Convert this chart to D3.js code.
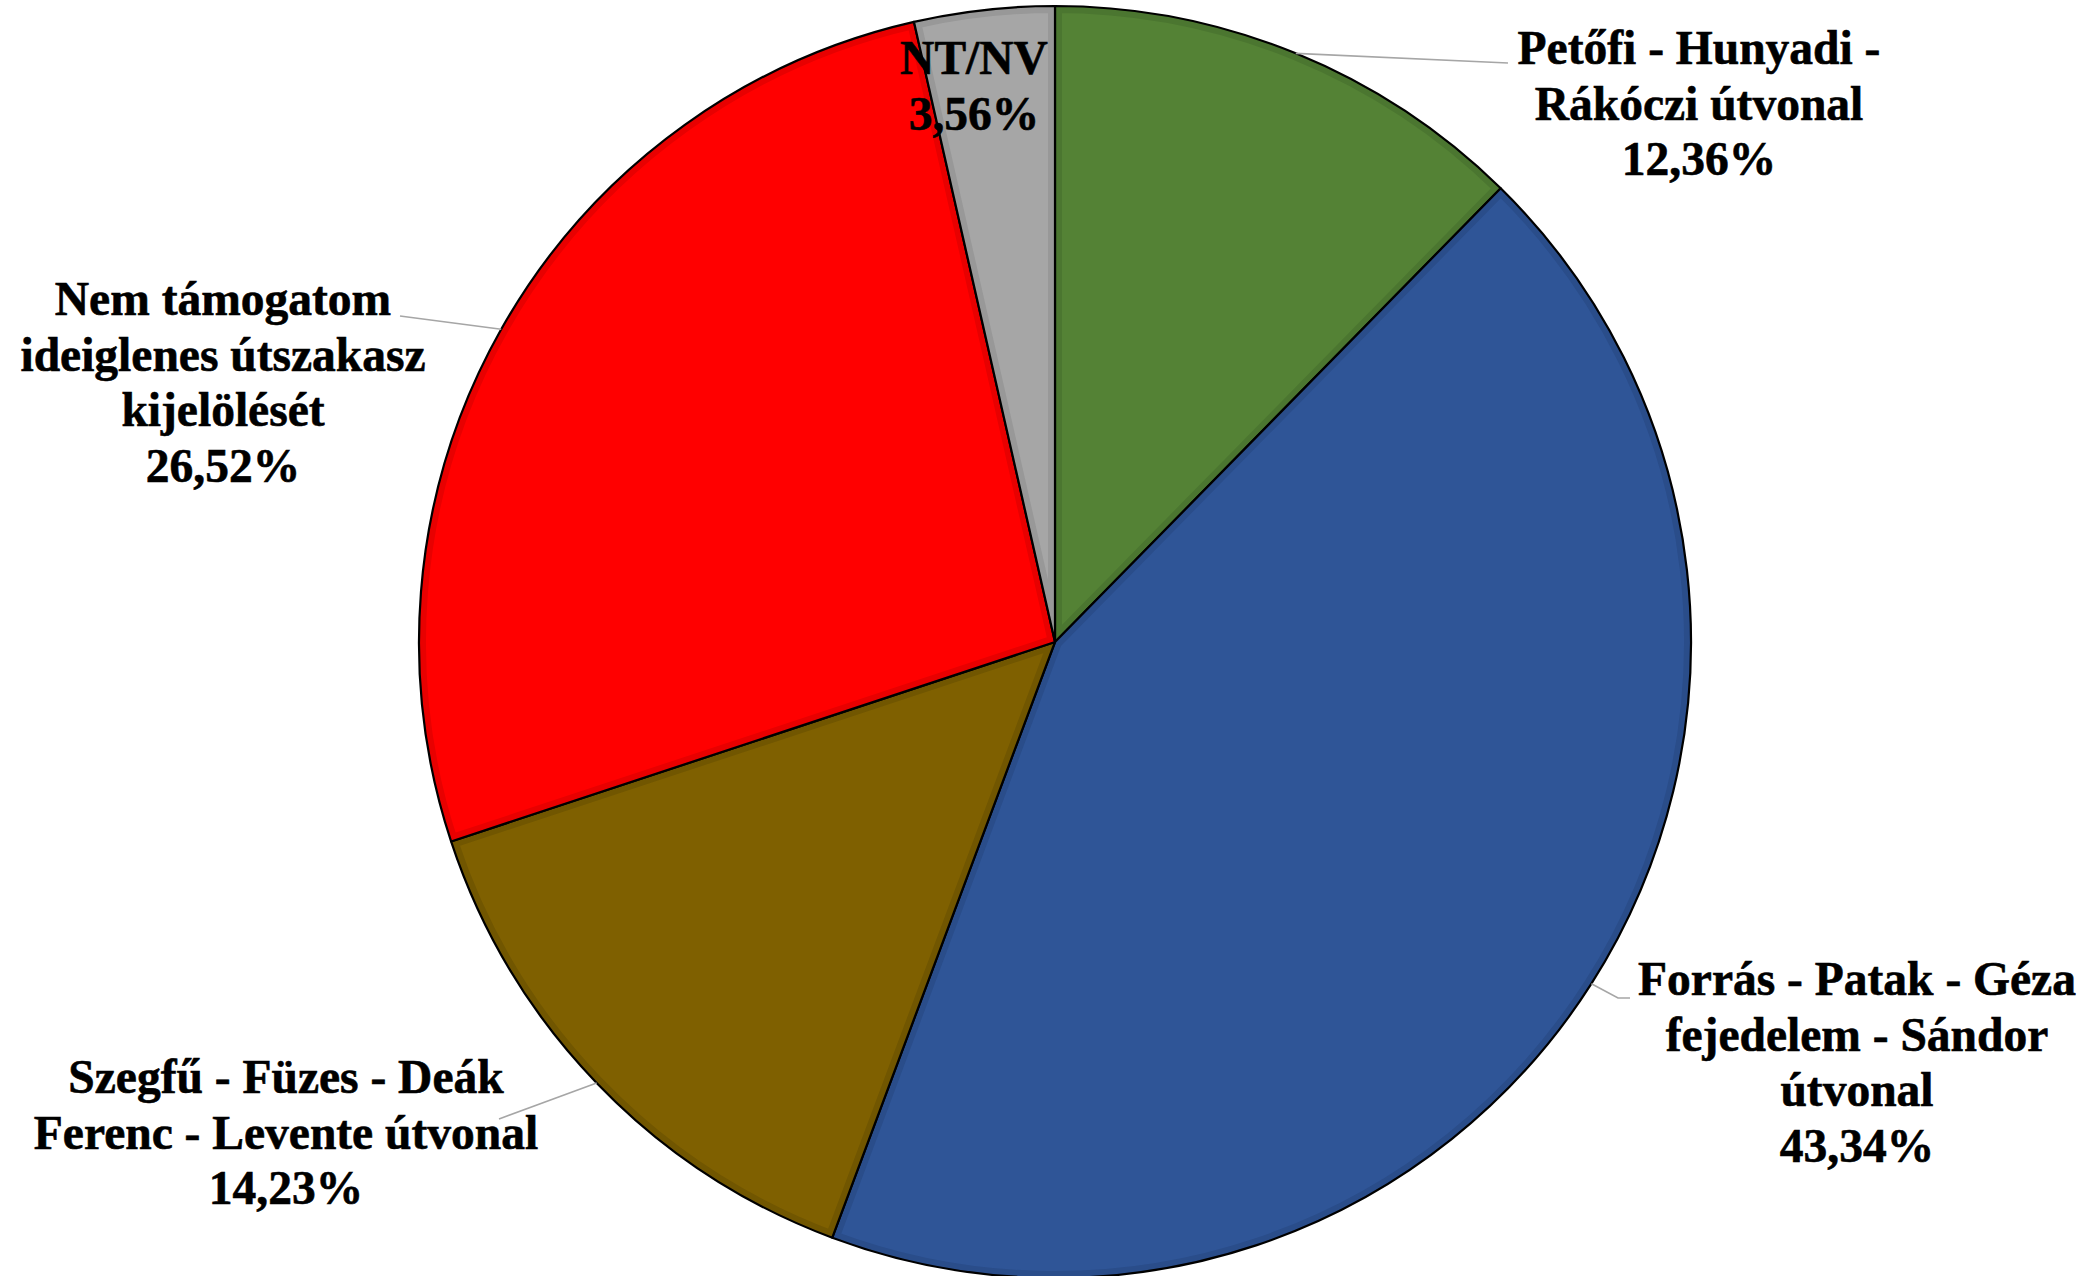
<!DOCTYPE html>
<html>
<head>
<meta charset="utf-8">
<script src="https://cdn.jsdelivr.net/npm/d3@7/dist/d3.min.js"></script>
<style>
  html, body { margin: 0; padding: 0; background: #ffffff; }
  svg { display: block; }
</style>
</head>
<body>
<svg id="chart" width="2097" height="1276"></svg>
<script>
// ---- data ----
const categories = [
  "Petőfi - Hunyadi - Rákóczi útvonal",
  "Forrás - Patak - Géza fejedelem - Sándor útvonal",
  "Szegfű - Füzes - Deák Ferenc - Levente útvonal",
  "Nem támogatom ideiglenes útszakasz kijelölését",
  "NT/NV"
];
const values = [12.36, 43.34, 14.23, 26.52, 3.56];
const labelLines = [
  ["Petőfi - Hunyadi -", "Rákóczi útvonal"],
  ["Forrás - Patak - Géza", "fejedelem - Sándor", "útvonal"],
  ["Szegfű - Füzes - Deák", "Ferenc - Levente útvonal"],
  ["Nem támogatom", "ideiglenes útszakasz", "kijelölését"],
  ["NT/NV"]
];

// ---- styles / layout ----
const fills  = ["#548235", "#2F5597", "#7F6000", "#FF0000", "#A6A6A6"];
const bands  = ["#4B7630", "#2A4D8A", "#715600", "#E80000", "#989898"];
const cx = 1055, cy = 642, R = 636;
const fontSize = 47.5, lineGap = 55.5;
const labelLayout = [
  { x: 1699, y: 64,   leader: [[1508, 63]] },
  { x: 1857, y: 995,  leader: [[1618, 998], [1630, 998]] },
  { x: 286,  y: 1093, leader: [[499, 1119]] },
  { x: 223,  y: 315,  leader: [[400, 316]] },
  { x: 974,  y: 74,   leader: null }
];

const locale = d3.formatLocale({ decimal: ",", thousands: " ", grouping: [3], currency: ["", " Ft"] });
const pct = v => locale.format(".2f")(v) + "%";

const svg = d3.select("#chart");
const g = svg.append("g").attr("transform", `translate(${cx},${cy})`);

const pie = d3.pie().sort(null).value(d => d);
const arcs = pie(values);
const arc = d3.arc().innerRadius(0).outerRadius(R);
const edgeArc = d3.arc().innerRadius(R).outerRadius(R);

const defs = svg.append("defs");
arcs.forEach((a, i) => {
  defs.append("clipPath").attr("id", "clip" + i)
    .append("path").attr("d", arc(a));
});

const slices = g.selectAll("g.slice").data(arcs).join("g").attr("class", "slice");
slices.append("path")
  .attr("d", arc)
  .attr("fill", (d, i) => fills[i]);
slices.append("path")
  .attr("d", arc)
  .attr("fill", "none")
  .attr("stroke", (d, i) => bands[i])
  .attr("stroke-width", 14)
  .attr("clip-path", (d, i) => `url(#clip${i})`);
slices.append("path")
  .attr("d", arc)
  .attr("fill", "none")
  .attr("stroke", "#000")
  .attr("stroke-width", 2.2)
  .attr("stroke-linejoin", "round");

// leader lines
arcs.forEach((a, i) => {
  const L = labelLayout[i];
  if (!L.leader) return;
  const c = edgeArc.centroid(a);
  const pts = [[cx + c[0], cy + c[1]]].concat(L.leader);
  svg.append("path")
    .attr("d", d3.line()(pts))
    .attr("fill", "none")
    .attr("stroke", "#A6A6A6")
    .attr("stroke-width", 1.6);
});

// labels
arcs.forEach((a, i) => {
  const L = labelLayout[i];
  const lines = labelLines[i].concat([pct(values[i])]);
  lines.forEach((t, k) => {
    svg.append("text")
      .attr("x", L.x)
      .attr("y", L.y + k * lineGap)
      .attr("text-anchor", "middle")
      .attr("font-family", "Liberation Serif")
      .attr("font-weight", "bold")
      .attr("font-size", fontSize)
      .attr("fill", "#000")
      .attr("stroke", "#000")
      .attr("stroke-width", 0.6)
      .text(t);
  });
});
</script>
</body>
</html>
